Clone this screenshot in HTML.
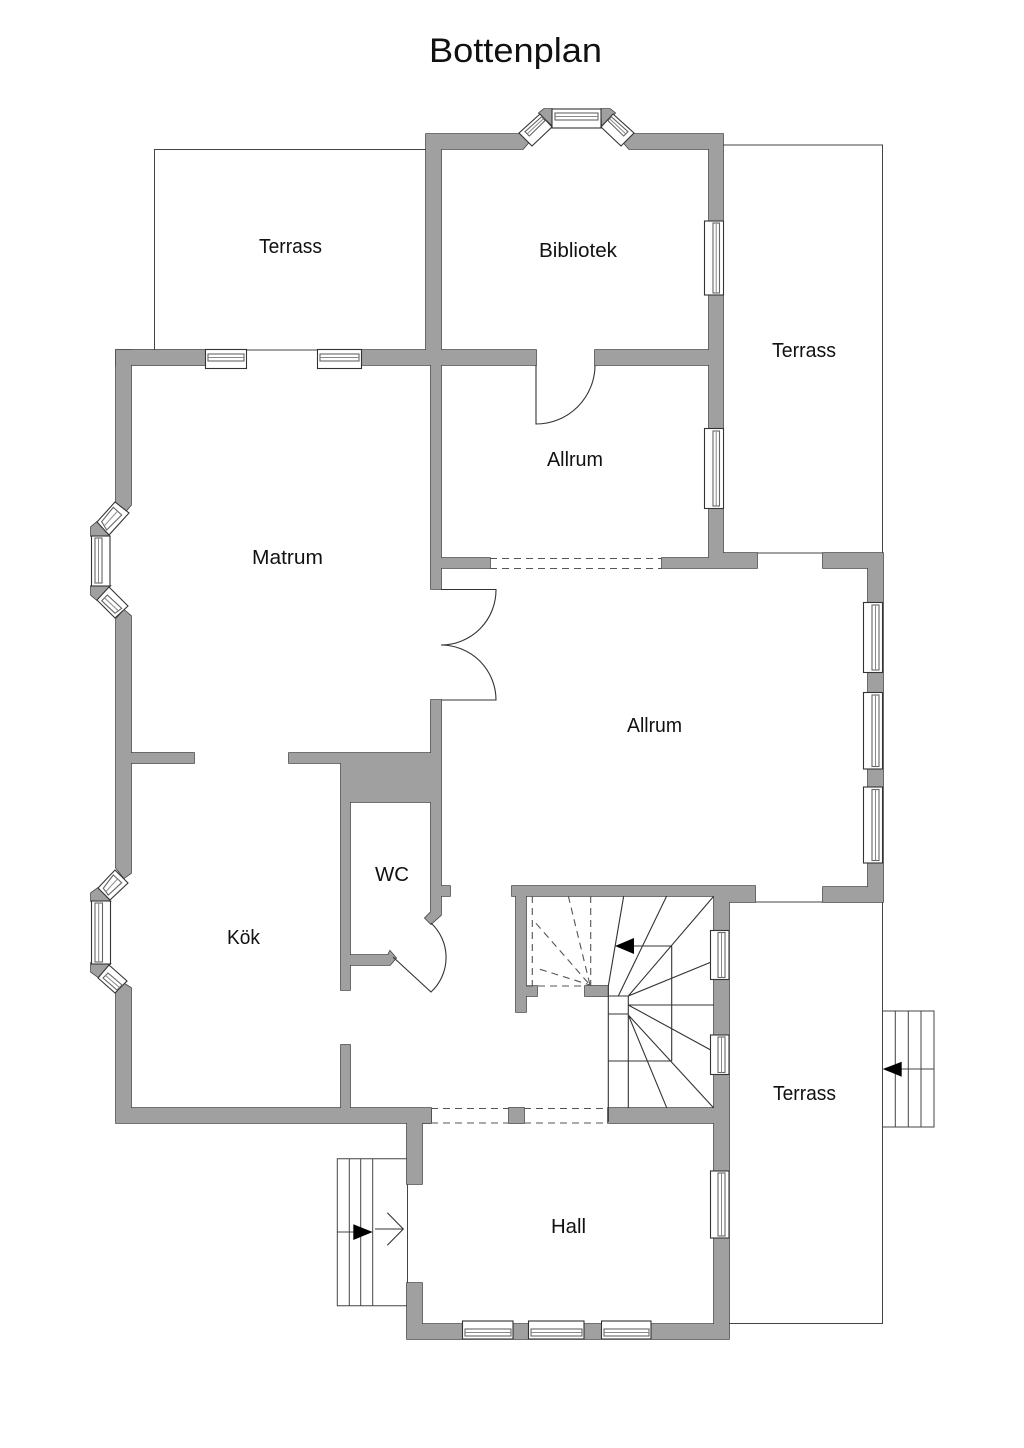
<!DOCTYPE html>
<html lang="sv">
<head>
<meta charset="utf-8">
<title>Bottenplan</title>
<style>
html,body{margin:0;padding:0;background:#fff;}
svg{display:block;}
text{font-family:"Liberation Sans",sans-serif;fill:#111;}
.thin{fill:none;stroke:#444;stroke-width:1;}
.line{fill:none;stroke:#333;stroke-width:1.1;}
.dash{fill:none;stroke:#555;stroke-width:1.1;stroke-dasharray:7 5;}
.win{fill:#fff;stroke:#333;stroke-width:1.1;}
.strip{fill:#fff;stroke:#666;stroke-width:1.1;}
.mid{fill:none;stroke:#888;stroke-width:1;}
</style>
</head>
<body>
<svg xmlns="http://www.w3.org/2000/svg" width="1024" height="1448" viewBox="0 0 1024 1448">
<rect width="1024" height="1448" fill="#fff"/>
<defs>
<g id="w">
  <!-- Bibliotek / Allrum block -->
  <polygon points="426,134 520,134 529,142 523,149 441,149 441,350 536,350 536,365 441,365 441,558 490,558 490,568 441,568 441,589 431,589 431,365 361,365 361,350 426,350"/>
  <polygon points="633,134 723,134 723,553 757,553 757,568 662,568 662,558 709,558 709,365 595,365 595,350 709,350 709,149 629,149 623,142"/>
  <rect x="116" y="350" width="90" height="15"/>
  <!-- Corner blocks at top bay -->
  <polygon points="539,113 544,109 552,109 552,125"/>
  <polygon points="601,109 610,109 615,113 602,125"/>
  <!-- Left outer wall -->
  <polygon points="116,350 131,350 131,505 125,512 116,502"/>
  <polygon points="116,619 124,610 131,616 131,873 124,878 116,868"/>
  <polygon points="116,993 123,983 131,988 131,1108 431,1108 431,1123 116,1123"/>
  <!-- Left bay corners -->
  <polygon points="97,522 91,527 91,536 109,536"/>
  <polygon points="91,586 110,586 97,600 91,595"/>
  <polygon points="98,888 91,893 91,901 110,901"/>
  <polygon points="91,963 110,964 98,977 91,972"/>
  <!-- Right outer wall -->
  <polygon points="823,553 883,553 883,902 823,902 823,887 868,887 868,568 823,568"/>
  <!-- Dividers -->
  <rect x="131" y="753" width="63" height="10"/>
  <polygon points="289,753 431,753 431,700 441,700 441,886 450,886 450,896 441,896 441,915 431,924 425,918 431,912 431,802 350,802 350,955 388,955 390,951 396,958 390,965 350,965 350,990 341,990 341,763 289,763"/>
  <rect x="341" y="1045" width="9" height="65"/>
  <!-- Stair walls -->
  <polygon points="512,886 755,886 755,902 729,902 729,1339 407,1339 407,1283 422,1283 422,1324 714,1324 714,1123 608,1123 608,1108 714,1108 714,896 526,896 526,986 537,986 537,996 526,996 526,1012 516,1012 516,896 512,896"/>
  <rect x="585" y="986" width="23" height="10"/>
  <rect x="509" y="1108" width="15" height="15"/>
  <polygon points="407,1110 431,1110 431,1123 422,1123 422,1184 407,1184"/>
</g>
</defs>

<!-- Terraces -->
<polyline class="thin" points="154.5,350 154.5,149.5 426,149.5"/>
<polyline class="thin" points="723,145 882.5,145 882.5,553"/>
<line class="thin" x1="757" y1="553" x2="823" y2="553"/>
<line class="thin" x1="755" y1="902" x2="823" y2="902"/>
<polyline class="thin" points="882.5,902 882.5,1323.5 729,1323.5"/>
<line class="thin" x1="245" y1="350" x2="318" y2="350"/>
<line class="thin" x1="407.5" y1="1184" x2="407.5" y2="1283"/>

<!-- Walls: outline then fill so joints merge -->
<use href="#w" fill="#444" stroke="#444" stroke-width="1.6"/>
<use href="#w" fill="#a0a0a0" stroke="none"/>

<!-- Top bay windows -->
<rect class="win" x="552" y="109" width="49" height="19"/>
<rect class="strip" x="555" y="113" width="43" height="7"/>
<line class="mid" x1="555" y1="116.5" x2="598" y2="116.5"/>
<polygon class="win" points="519,133 540,114 552,127 532,146"/>
<polygon class="strip" points="525,131.7 541.7,116.7 545,120.7 529.3,136"/>
<line class="mid" x1="527.2" y1="133.9" x2="543.4" y2="118.7"/>
<polygon class="win" points="634,133 613,114 601,127 621,146"/>
<polygon class="strip" points="628,131.7 611.3,116.7 608,120.7 623.7,136"/>
<line class="mid" x1="625.8" y1="133.9" x2="609.6" y2="118.7"/>

<!-- Right windows of Bibliotek/Allrum -->
<rect class="win" x="704.5" y="221" width="19" height="74"/>
<rect class="strip" x="713" y="223" width="6.5" height="70"/>
<line class="mid" x1="716.2" y1="223" x2="716.2" y2="293"/>
<rect class="win" x="704.5" y="428.5" width="19" height="80"/>
<rect class="strip" x="713" y="431" width="6.5" height="75"/>
<line class="mid" x1="716.2" y1="431" x2="716.2" y2="506"/>

<!-- Matrum top windows -->
<rect class="win" x="205.5" y="349.5" width="41" height="19"/>
<rect class="strip" x="208" y="354" width="36" height="7"/>
<line class="mid" x1="208" y1="357.5" x2="244" y2="357.5"/>
<rect class="win" x="317.5" y="349.5" width="44" height="19"/>
<rect class="strip" x="320" y="354" width="39" height="7"/>
<line class="mid" x1="320" y1="357.5" x2="359" y2="357.5"/>

<!-- Left bay 1 -->
<rect class="win" x="91.5" y="536" width="18.5" height="50"/>
<rect class="strip" x="95" y="538" width="7" height="45"/>
<line class="mid" x1="98.5" y1="538" x2="98.5" y2="583"/>
<polygon class="win" points="115,502 129,513 109,535 97,522"/>
<polygon class="strip" points="113.3,507.3 121.7,515 106.7,530 101.7,521.7"/>
<line class="mid" x1="117.5" y1="511.2" x2="104.2" y2="525.9"/>
<polygon class="win" points="97,600 109,587 128,606 115,618"/>
<polygon class="strip" points="101.7,600.7 107.3,595 121.7,608.3 115,613.3"/>
<line class="mid" x1="104.5" y1="597.9" x2="118.3" y2="610.8"/>

<!-- Left bay 2 -->
<rect class="win" x="91.5" y="901" width="19" height="63"/>
<rect class="strip" x="95" y="903" width="7.5" height="59"/>
<line class="mid" x1="98.7" y1="903" x2="98.7" y2="962"/>
<polygon class="win" points="115,870 128,883 110,900 98,888"/>
<polygon class="strip" points="113.3,875 121.7,882.7 108.3,895 103.3,888.3"/>
<line class="mid" x1="117.5" y1="878.9" x2="105.8" y2="891.7"/>
<polygon class="win" points="98,978 109,965 127,981 115,993"/>
<polygon class="strip" points="103,978 108,973 122,985 117,990"/>
<line class="mid" x1="105.5" y1="975.5" x2="119.5" y2="987.5"/>

<!-- Right windows of large Allrum -->
<rect class="win" x="863.5" y="602.5" width="19" height="70"/>
<rect class="strip" x="872" y="605" width="7" height="65"/>
<line class="mid" x1="875.5" y1="605" x2="875.5" y2="670"/>
<rect class="win" x="863.5" y="692.5" width="19" height="76.5"/>
<rect class="strip" x="872" y="695" width="7" height="71.5"/>
<line class="mid" x1="875.5" y1="695" x2="875.5" y2="766.5"/>
<rect class="win" x="863.5" y="787" width="19" height="76"/>
<rect class="strip" x="872" y="789.5" width="7" height="71"/>
<line class="mid" x1="875.5" y1="789.5" x2="875.5" y2="860.5"/>

<!-- Stair and hall windows -->
<rect class="win" x="710.5" y="930.5" width="18.5" height="49"/>
<rect class="strip" x="718" y="932.5" width="7" height="45"/>
<line class="mid" x1="721.5" y1="932.5" x2="721.5" y2="977.5"/>
<rect class="win" x="710.5" y="1035" width="18.5" height="39.5"/>
<rect class="strip" x="718" y="1037" width="7" height="35.5"/>
<line class="mid" x1="721.5" y1="1037" x2="721.5" y2="1072.5"/>
<rect class="win" x="710.5" y="1171" width="18.5" height="67"/>
<rect class="strip" x="718" y="1173" width="7" height="63"/>
<line class="mid" x1="721.5" y1="1173" x2="721.5" y2="1236"/>

<!-- Hall bottom windows -->
<rect class="win" x="462.5" y="1321" width="50.5" height="18"/>
<rect class="strip" x="465" y="1329" width="46" height="7"/>
<line class="mid" x1="465" y1="1332.5" x2="511" y2="1332.5"/>
<rect class="win" x="528.5" y="1321" width="55.5" height="18"/>
<rect class="strip" x="531" y="1329" width="51" height="7"/>
<line class="mid" x1="531" y1="1332.5" x2="582" y2="1332.5"/>
<rect class="win" x="601.5" y="1321" width="49.5" height="18"/>
<rect class="strip" x="604" y="1329" width="45" height="7"/>
<line class="mid" x1="604" y1="1332.5" x2="649" y2="1332.5"/>

<!-- Doors -->
<path class="line" d="M536,365V424A59,59 0 0 0 595,365"/>
<path class="line" d="M441,589.5H496A55,55 0 0 1 441,645"/>
<path class="line" d="M441,700H496A55,55 0 0 0 441,645"/>
<path class="line" d="M393,957L431,992A47,47 0 0 0 431,923"/>

<!-- Opening dashes -->
<path class="dash" d="M490,558.5H662M490,568.5H662"/>
<path class="dash" d="M431,1108.5H509M524,1108.5H608M431,1123H509M524,1123H608"/>

<!-- Stairs solid -->
<path class="line" d="M623.7,896L608.3,986M666.7,896L618.3,996M713.5,896.5L628.3,996M710.7,962.3L628.3,996M714,1005H628.3M710.7,1050L628.3,1005M713.5,1107.7L628.3,1015M666.7,1107.7L628.3,1015M628.3,996V1108M608.3,986V1122M608.3,996H628.3M608.3,1014H628.3M608.3,1061H671.7M671.7,946V1061M634,946H671.7"/>
<polygon points="615,946 634,938 634,954" fill="#000"/>
<!-- Stairs dashed -->
<path class="dash" d="M532.3,896V986M590.7,896V986M526,986H585M536,923.3L590,985M568.3,896L590,985M540,969.3L590,985"/>

<!-- Entrance steps left -->
<path class="thin" d="M407,1158.7H337.3V1305.7H407M349.3,1158.7V1305.7M360.7,1158.7V1305.7M372.7,1158.7V1305.7M337.3,1232H354"/>
<polygon points="353.3,1224.3 353.3,1240 372.7,1232" fill="#000"/>
<path class="line" d="M375,1229H403.3M387.3,1212.7L403.3,1229L387.3,1245.3"/>

<!-- Terrace steps right -->
<path class="thin" d="M882.5,1011H934V1127H882.5M895.3,1011V1127M908.3,1011V1127M921,1011V1127M901,1069H934"/>
<polygon points="882.7,1069 901.7,1061.7 901.7,1076.7" fill="#000"/>

<!-- Labels -->
<text x="429" y="62" font-size="34" textLength="173" lengthAdjust="spacingAndGlyphs">Bottenplan</text>
<text x="259" y="253" font-size="20" textLength="63" lengthAdjust="spacingAndGlyphs">Terrass</text>
<text x="539" y="257" font-size="20" textLength="78" lengthAdjust="spacingAndGlyphs">Bibliotek</text>
<text x="772" y="357" font-size="20" textLength="64" lengthAdjust="spacingAndGlyphs">Terrass</text>
<text x="547" y="466" font-size="20" textLength="56" lengthAdjust="spacingAndGlyphs">Allrum</text>
<text x="252" y="564" font-size="20" textLength="71" lengthAdjust="spacingAndGlyphs">Matrum</text>
<text x="627" y="732" font-size="20" textLength="55" lengthAdjust="spacingAndGlyphs">Allrum</text>
<text x="375" y="881" font-size="20" textLength="34" lengthAdjust="spacingAndGlyphs">WC</text>
<text x="227" y="944" font-size="20" textLength="33" lengthAdjust="spacingAndGlyphs">Kök</text>
<text x="773" y="1100" font-size="20" textLength="63" lengthAdjust="spacingAndGlyphs">Terrass</text>
<text x="551" y="1233" font-size="20" textLength="35" lengthAdjust="spacingAndGlyphs">Hall</text>
</svg>
</body>
</html>
